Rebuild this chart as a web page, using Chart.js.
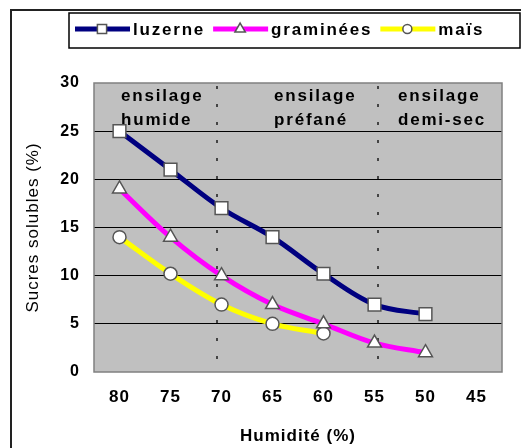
<!DOCTYPE html>
<html>
<head>
<meta charset="utf-8">
<script src="https://cdn.jsdelivr.net/npm/chart.js@4.4.1/dist/chart.umd.min.js"></script>
<style>
  html, body { margin: 0; padding: 0; background: #fff; }
  canvas { display: block; }
</style>
</head>
<body>
<canvas id="chart" width="521" height="448"></canvas>
<script>
// data
const humidity = ["80", "75", "70", "65", "60", "55", "50", "45"];
const luzerne = [25, 21, 17, 14, 10.2, 7, 6, null];
const graminees = [19, 14, 10, 7, 5, 3, 2, null];
const mais = [14, 10.2, 7, 5, 4, null, null, null];
const seriesNames = ["luzerne", "graminées", "maïs"];
const seriesColors = ["#000080", "#ff00ff", "#ffff00"];
const pointStyles = ["rect", "triangle", "circle"];

// zones (in category index units)
const zoneLines = [1.91, 5.07];
const zoneLabels = [["ensilage", "humide"], ["ensilage", "préfané"], ["ensilage", "demi-sec"]];
const zoneStarts = [0.03, 3.03, 5.46];

const FONT = "'Liberation Sans', Arial, sans-serif";
const ctx = document.getElementById("chart").getContext("2d");

const bgPlugin = {
  id: "plotBg",
  beforeDraw(chart) {
    const { ctx, chartArea: a } = chart;
    ctx.letterSpacing = "1px";
    ctx.save();
    ctx.fillStyle = "#c0c0c0";
    ctx.fillRect(a.left, a.top, a.right - a.left, a.bottom - a.top);
    ctx.restore();
  },
  beforeDatasetsDraw(chart) {
    const { ctx, chartArea: a, scales } = chart;
    ctx.save();
    // border of plot
    ctx.strokeStyle = "#808080";
    ctx.lineWidth = 1.5;
    ctx.strokeRect(a.left, a.top, a.right - a.left, a.bottom - a.top);
    // dotted zone separators
    ctx.strokeStyle = "#444";
    ctx.lineWidth = 2;
    ctx.setLineDash([3, 15]);
    zoneLines.forEach((i) => {
      const x = Math.round(scales.x.getPixelForValue(i));
      ctx.beginPath();
      ctx.moveTo(x, a.top + 3);
      ctx.lineTo(x, a.bottom - 8);
      ctx.stroke();
    });
    ctx.setLineDash([]);
    // zone labels
    ctx.fillStyle = "#000";
    ctx.font = "bold 17px " + FONT;
    ctx.letterSpacing = "1.8px";
    ctx.textAlign = "left";
    ctx.textBaseline = "middle";
    zoneLabels.forEach((lines, k) => {
      const x = scales.x.getPixelForValue(zoneStarts[k]);
      lines.forEach((t, j) => ctx.fillText(t, x, a.top + 13 + j * 24));
    });
    ctx.restore();
  },
  afterDraw(chart) {
    const { ctx } = chart;
    ctx.save();
    // outer frame
    ctx.strokeStyle = "#222";
    ctx.lineWidth = 2;
    ctx.beginPath();
    ctx.moveTo(11, 448);
    ctx.lineTo(11, 10);
    ctx.lineTo(521, 10);
    ctx.stroke();
    // legend box
    ctx.fillStyle = "#fff";
    ctx.fillRect(69, 13, 451, 35);
    ctx.strokeStyle = "#000";
    ctx.lineWidth = 1.5;
    ctx.strokeRect(69, 13, 451, 35);
    ctx.font = "bold 17px " + FONT;
    ctx.letterSpacing = "1.8px";
    ctx.textBaseline = "middle";
    ctx.textAlign = "left";
    let x = 75;
    const y = 29;
    const legendRadius = [6.5, 6, 4.5];
    seriesNames.forEach((name, i) => {
      ctx.strokeStyle = seriesColors[i];
      ctx.lineWidth = 5;
      ctx.beginPath();
      ctx.moveTo(x, y);
      ctx.lineTo(x + 55, y);
      ctx.stroke();
      ctx.fillStyle = "#fff";
      ctx.strokeStyle = "#555";
      ctx.lineWidth = 1.5;
      Chart.helpers.drawPoint(ctx, { pointStyle: pointStyles[i], radius: legendRadius[i], rotation: 0, borderWidth: 1.5 }, x + 27, y);
      ctx.fillStyle = "#000";
      ctx.fillText(name, x + 58, y + 1);
      x += 58 + ctx.measureText(name).width + 8;
    });
    ctx.restore();
  },
};

const chart = new Chart(ctx, {
  type: "line",
  data: {
    labels: humidity,
    datasets: [luzerne, graminees, mais].map((data, i) => ({
      label: seriesNames[i],
      data: data,
      borderColor: seriesColors[i],
      borderWidth: 5,
      tension: 0.35,
      pointStyle: pointStyles[i],
      pointRadius: [9, 8, 6.5][i],
      pointBackgroundColor: "#fff",
      pointBorderColor: "#555",
      pointBorderWidth: 1.5,
      spanGaps: false,
    })),
  },
  options: {
    responsive: false,
    animation: false,
    layout: { padding: { top: 83, right: 19, bottom: 0, left: 0 } },
    plugins: { legend: { display: false }, tooltip: { enabled: false } },
    scales: {
      x: {
        type: "category",
        offset: true,
        grid: { display: false, drawTicks: false },
        border: { display: false },
        ticks: { color: "#000", padding: 15, font: { family: FONT, size: 17, weight: "bold" } },
        title: {
          display: true,
          text: "Humidité (%)",
          color: "#000",
          padding: { top: 0, bottom: 1 },
          font: { family: FONT, size: 17, weight: "bold" },
        },
        afterFit(scale) { scale.height = 76; },
      },
      y: {
        min: 0,
        max: 30,
        grid: {
          drawTicks: false,
          color: (c) => (c.tick && (c.tick.value === 0 || c.tick.value === 30) ? "rgba(0,0,0,0)" : "#000"),
          lineWidth: 1,
        },
        border: { display: false },
        ticks: {
          stepSize: 5,
          padding: 14,
          color: "#000",
          font: { family: FONT, size: 16, weight: "bold" },
        },
        title: {
          display: true,
          text: "Sucres solubles (%)",
          color: "#000",
          padding: { top: 23, bottom: 0 },
          font: { family: FONT, size: 17 },
        },
        afterFit(scale) { scale.width = 94; },
      },
    },
  },
  plugins: [bgPlugin],
});
</script>
</body>
</html>
